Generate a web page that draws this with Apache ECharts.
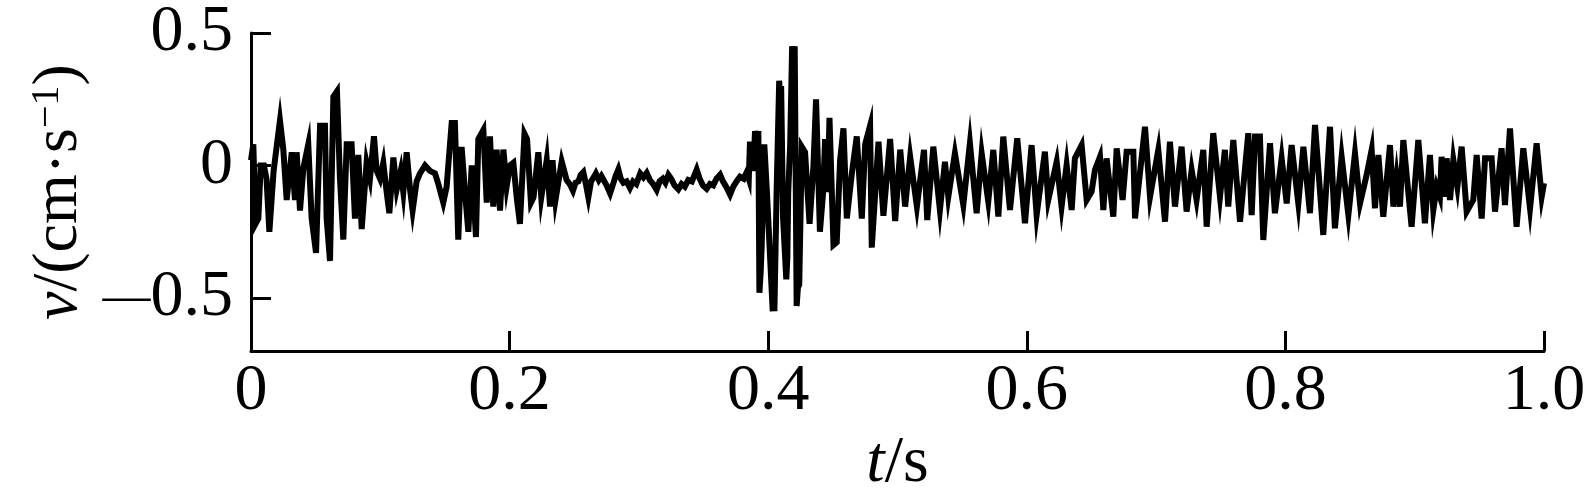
<!DOCTYPE html>
<html>
<head>
<meta charset="utf-8">
<script src="https://cdn.jsdelivr.net/npm/echarts@6/dist/echarts.min.js"></script>
<style>
html,body{margin:0;padding:0;background:#fff;}
#chart{width:1589px;height:504px;}
</style>
</head>
<body>
<div id="chart"></div>
<script>
// ---- Data (t in s, v in cm/s) ----
// Segment A: first two bursts (0 - 0.21 s)
const tA = [0, 0.0018, 0.0035, 0.0057, 0.0075, 0.010, 0.012, 0.0142, 0.0175, 0.0224, 0.025, 0.0276, 0.0315, 0.034, 0.0353, 0.0379, 0.0405, 0.0443, 0.0469, 0.0503, 0.0534, 0.0572, 0.0585, 0.0611, 0.0637, 0.0665, 0.0688, 0.0714, 0.074, 0.0778, 0.0804, 0.083, 0.0856, 0.0894, 0.092, 0.0951, 0.0972, 0.0998, 0.1023, 0.1049, 0.107, 0.1101, 0.1127, 0.1158, 0.1178, 0.1204, 0.123, 0.125, 0.1281, 0.1307, 0.1346, 0.1384, 0.1423, 0.1449, 0.1487, 0.1513, 0.1552, 0.1577, 0.1603, 0.1629, 0.1655, 0.1681, 0.1707, 0.174, 0.1758, 0.1797, 0.1823, 0.1848, 0.1874, 0.190, 0.1926, 0.1952, 0.1977, 0.2003, 0.2029, 0.2055];
const vA = [0.02, 0.08, -0.22, -0.2, 0.0, 0.0, -0.05, -0.25, -0.02, 0.17, 0.06, -0.13, 0.05, -0.13, 0.05, -0.17, -0.01, 0.08, -0.2, -0.33, 0.15, 0.15, -0.2, -0.36, 0.26, 0.28, -0.05, -0.28, 0.08, 0.08, -0.2, 0.04, -0.24, 0.01, -0.05, 0.11, -0.02, -0.05, 0.01, -0.1, -0.18, 0.03, -0.09, -0.02, -0.1, 0.05, -0.09, -0.17, -0.06, -0.03, 0.0, -0.02, -0.03, -0.07, -0.14, -0.08, 0.16, 0.16, -0.28, 0.07, -0.1, -0.25, 0.0, -0.27, 0.1, 0.134, -0.14, 0.11, -0.155, 0.06, -0.17, 0.06, -0.08, 0.0, 0.01, -0.12];
// Segment B: quiet part (0.21 - 0.386 s)
const tB = [0.208, 0.2115, 0.2135, 0.2165, 0.2185, 0.2222, 0.2245, 0.2287, 0.2313, 0.2332, 0.2355, 0.2403, 0.2441, 0.2465, 0.2490, 0.2510, 0.2532, 0.2550, 0.2570, 0.2590, 0.2609, 0.2630, 0.2650, 0.2667, 0.2690, 0.2710, 0.2725, 0.2750, 0.2777, 0.2800, 0.2820, 0.2841, 0.2860, 0.2880, 0.2905, 0.2931, 0.2955, 0.2980, 0.3010, 0.3035, 0.3060, 0.3085, 0.3110, 0.3137, 0.3160, 0.3185, 0.3205, 0.3228, 0.3250, 0.3275, 0.3305, 0.3330, 0.3355, 0.3382, 0.3410, 0.3447, 0.3470, 0.3495, 0.3524, 0.3550, 0.3575, 0.3600, 0.3628, 0.3650, 0.3675, 0.3705, 0.3730, 0.3755, 0.3782, 0.3810, 0.3834, 0.3850];
const vB = [-0.22, 0.12, 0.10, -0.14, -0.12, 0.05, -0.12, 0.02, -0.155, 0.02, -0.13, 0.015, -0.055, -0.07, -0.095, -0.065, -0.06, -0.035, -0.025, -0.07, -0.12, -0.06, -0.045, -0.03, -0.055, -0.04, -0.035, -0.075, -0.105, -0.07, -0.04, -0.015, -0.05, -0.065, -0.06, -0.085, -0.06, -0.07, -0.03, -0.045, -0.028, -0.055, -0.07, -0.092, -0.06, -0.05, -0.065, -0.035, -0.05, -0.075, -0.09, -0.07, -0.08, -0.055, -0.06, -0.015, -0.05, -0.075, -0.088, -0.07, -0.075, -0.05, -0.035, -0.06, -0.08, -0.11, -0.08, -0.06, -0.042, -0.05, -0.025, -0.05];
// Segment C: main burst (0.386 - 0.52 s)
const tC = [0.3859, 0.3885, 0.3898, 0.3912, 0.3924, 0.3932, 0.3942, 0.3950, 0.3970, 0.3990, 0.4035, 0.4042, 0.4048, 0.4065, 0.4085, 0.4092, 0.4100, 0.4115, 0.4140, 0.4148, 0.4155, 0.4170, 0.4185, 0.4195, 0.4205, 0.4220, 0.4230, 0.4240, 0.4260, 0.4285, 0.4320, 0.4350, 0.4370, 0.4385, 0.4400, 0.4425, 0.4440, 0.4460, 0.4474, 0.4505, 0.4530, 0.4556, 0.4582, 0.4608, 0.4647, 0.4685, 0.4724, 0.4750, 0.4788, 0.4801, 0.4853, 0.4891, 0.4943, 0.4982, 0.5021, 0.5059, 0.5098, 0.5150];
const vC = [0.09, -0.02, 0.13, 0.08, 0.13, -0.48, -0.40, -0.3, 0.08, -0.1, -0.55, -0.45, -0.55, -0.1, 0.32, 0.25, 0.30, -0.2, -0.43, -0.35, -0.1, 0.08, 0.45, 0.38, 0.45, -0.53, -0.46, -0.45, 0.07, 0.05, -0.22, 0.0, 0.25, 0.25, -0.25, -0.1, 0.1, -0.1, 0.18, -0.3, -0.29, 0.02, 0.14, -0.2, -0.03, 0.11, -0.2, 0.08, 0.15, -0.31, 0.09, -0.19, 0.1, -0.21, 0.06, -0.155, 0.033, -0.155];
// Segment D: coda (0.52 - 0.756 s)
const tD = [0.5205, 0.5230, 0.5277, 0.5328, 0.5367, 0.5393, 0.5444, 0.5509, 0.5560, 0.5612, 0.5651, 0.5702, 0.5741, 0.5780, 0.5818, 0.5870, 0.5926, 0.5986, 0.6037, 0.6076, 0.6140, 0.6166, 0.6231, 0.6269, 0.6308, 0.6347, 0.6372, 0.6424, 0.6463, 0.6501, 0.6527, 0.6566, 0.6592, 0.6617, 0.6669, 0.6695, 0.6741, 0.6772, 0.6824, 0.6837, 0.6914, 0.6953, 0.7017, 0.7069, 0.7107, 0.7146, 0.7197, 0.7236, 0.7275, 0.7313, 0.7365, 0.7391, 0.7442, 0.7494, 0.7532, 0.7558];
const vD = [0.059, -0.206, 0.071, -0.168, 0.014, -0.118, 0.046, -0.149, 0.084, -0.18, 0.046, -0.136, 0.059, -0.193, 0.109, -0.168, 0.103, -0.218, 0.077, -0.187, 0.052, -0.13, 0.014, -0.155, 0.002, -0.168, 0.027, 0.077, -0.13, -0.099, -0.017, 0.033, -0.168, 0.027, -0.193, 0.065, -0.13, 0.052, 0.052, -0.2, 0.146, -0.118, 0.059, -0.212, 0.09, -0.155, 0.071, -0.174, -0.017, -0.13, 0.059, -0.231, 0.122, -0.118, 0.059, -0.155];
// Segment E: coda (0.756 - 1.0 s)
const tE = [0.7597, 0.7649, 0.7713, 0.7739, 0.7765, 0.7803, 0.7829, 0.7881, 0.7919, 0.7971, 0.8010, 0.8048, 0.8100, 0.8139, 0.8190, 0.8229, 0.8293, 0.8345, 0.8383, 0.8435, 0.8487, 0.8538, 0.8577, 0.8628, 0.8667, 0.8693, 0.8719, 0.8757, 0.8809, 0.8835, 0.8860, 0.8886, 0.8912, 0.8976, 0.9028, 0.9079, 0.9118, 0.9144, 0.9170, 0.9195, 0.9208, 0.9234, 0.9247, 0.9273, 0.9299, 0.9330, 0.9363, 0.9402, 0.9453, 0.9479, 0.9518, 0.9544, 0.9595, 0.9621, 0.9672, 0.9698, 0.9737, 0.9788, 0.9840, 0.9892, 0.9943, 0.9982, 1.0];
const vE = [0.096, -0.212, 0.122, -0.187, 0.109, 0.109, -0.281, 0.084, -0.18, 0.027, -0.143, 0.077, -0.143, 0.071, -0.18, 0.153, -0.262, 0.146, -0.237, 0.033, -0.187, 0.046, -0.143, -0.036, 0.059, -0.162, 0.040, -0.193, 0.077, -0.155, -0.042, -0.155, 0.096, -0.231, 0.096, -0.218, 0.04, -0.168, -0.08, -0.118, 0.033, -0.118, 0.027, -0.13, 0.021, -0.08, 0.071, -0.174, -0.13, 0.040, -0.2, 0.027, 0.027, -0.174, 0.065, -0.149, 0.140, -0.231, 0.065, -0.162, 0.084, -0.118, -0.067];

// Axis ticks / labels
const xTicks = [0, 0.2, 0.4, 0.6, 0.8, 1.0];
const xTickLabels = ['0', '0.2', '0.4', '0.6', '0.8', '1.0'];
const yTicks = [-0.5, 0, 0.5];
const yTickLabels = ['{d|—}0.5', '0', '0.5'];

const times = [].concat(tA, tB, tC, tD, tE);
const vals = [].concat(vA, vB, vC, vD, vE);
const data = times.map((t, i) => [t, vals[i]]);

const FONT = 'Liberation Serif';
const chart = echarts.init(document.getElementById('chart'), null, {renderer: 'canvas'});
chart.setOption({
  animation: false,
  backgroundColor: '#ffffff',
  grid: {left: 251, right: 45, top: 33, bottom: 153},
  xAxis: {
    type: 'value', min: 0, max: 1,
    axisLine: {onZero: false, lineStyle: {color: '#000', width: 3}},
    axisTick: {inside: true, length: 20, lineStyle: {color: '#000', width: 3}, customValues: xTicks},
    axisLabel: {
      customValues: xTicks,
      formatter: v => xTickLabels[xTicks.findIndex(x => Math.abs(x - v) < 1e-9)],
      fontFamily: FONT, fontSize: 66, color: '#000', margin: 8
    },
    splitLine: {show: false},
    name: '{i|t}/s', nameLocation: 'middle', nameGap: 80,
    nameTextStyle: {fontFamily: FONT, fontSize: 66, color: '#000',
      rich: {i: {fontFamily: FONT, fontSize: 66, fontStyle: 'italic', color: '#000'}}}
  },
  yAxis: {
    type: 'value', min: -0.7, max: 0.5,
    axisLine: {onZero: false, lineStyle: {color: '#000', width: 3}},
    axisTick: {inside: true, length: 20, lineStyle: {color: '#000', width: 3}, customValues: yTicks},
    axisLabel: {
      customValues: yTicks,
      formatter: v => yTickLabels[yTicks.findIndex(x => Math.abs(x - v) < 1e-9)],
      fontFamily: FONT, fontSize: 66, color: '#000', margin: 18,
      rich: {d: {fontFamily: FONT, fontSize: 48, color: '#000'}}
    },
    splitLine: {show: false},
    name: '{i|v}/(cm·s{sup|−1})', nameLocation: 'middle', nameRotate: 90, nameGap: 159,
    nameTextStyle: {fontFamily: FONT, fontSize: 64, color: '#000',
      rich: {
        i: {fontFamily: FONT, fontSize: 64, fontStyle: 'italic', color: '#000'},
        sup: {fontFamily: FONT, fontSize: 40, color: '#000', verticalAlign: 'top'}
      }}
  },
  series: [{
    type: 'line', data: data, symbol: 'none', smooth: false,
    lineStyle: {color: '#000', width: 6, join: 'miter'},
    clip: false
  }]
});
</script>
</body>
</html>
